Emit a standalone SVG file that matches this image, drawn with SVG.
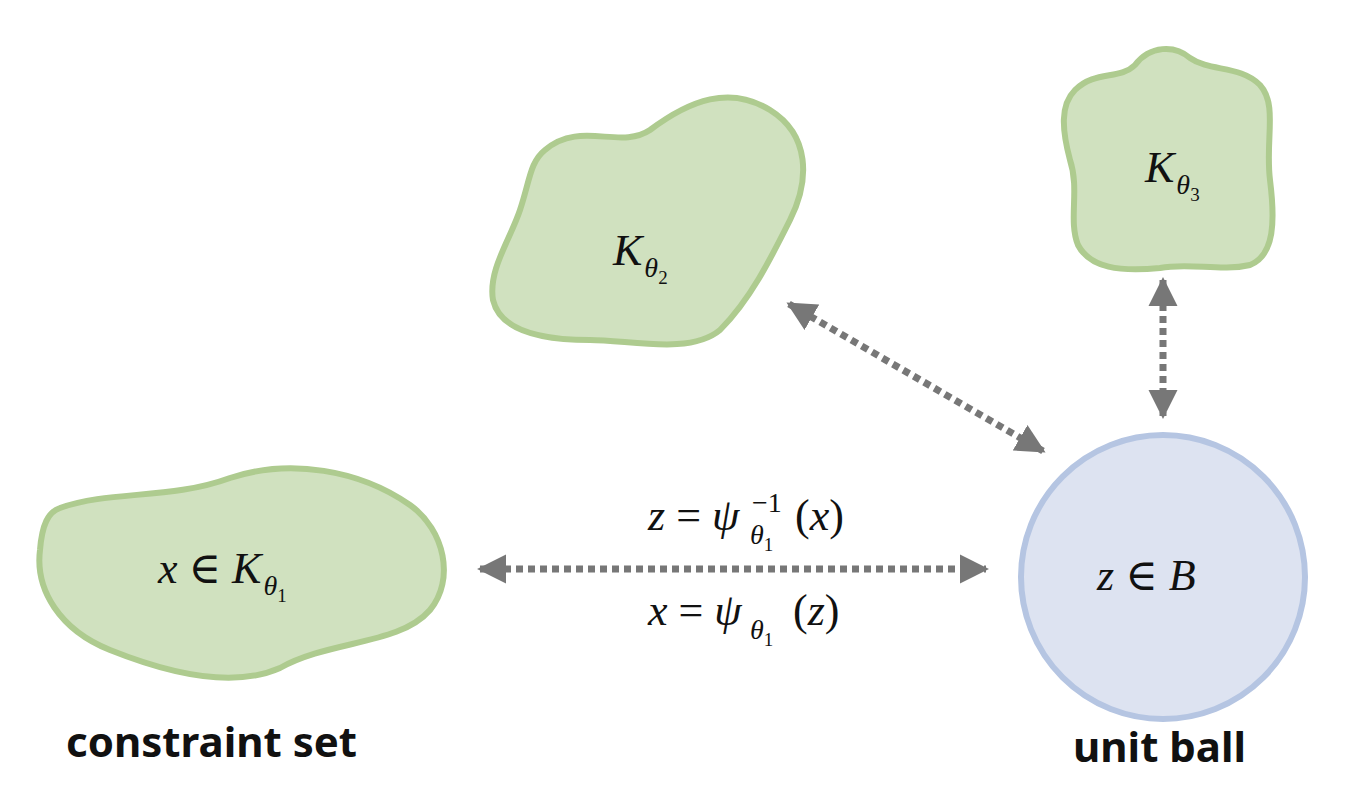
<svg xmlns="http://www.w3.org/2000/svg" width="1362" height="794" viewBox="0 0 1362 794">
<defs>
<style>
.blob{fill:#d0e1bf;stroke:#aecb8f;stroke-width:6}
.ball{fill:#dde3f1;stroke:#b5c5e2;stroke-width:6}
.m{font-family:"Liberation Serif","DejaVu Serif",serif;font-style:italic;font-size:44px;fill:#111}
.n{font-style:normal}
.s{font-size:28px}
.t{font-size:19px;font-style:normal}
.lab{font-family:"Noto Sans","Liberation Sans",sans-serif;font-weight:bold;font-size:42px;fill:#111}
.con{stroke:#777;stroke-width:7;stroke-dasharray:7 5;fill:none}
</style>
<marker id="ah" viewBox="0 0 10 10" refX="9" refY="5" markerWidth="4.2" markerHeight="4.2" orient="auto-start-reverse" markerUnits="strokeWidth"><path d="M0 0L10 5L0 10z" fill="#777"/></marker>
</defs>
<g id="k1">
<path class="blob" d="M60 508C110 490 170 500 230 478C290 458 360 470 410 505C445 530 455 580 430 610C400 645 330 640 280 668C230 690 160 670 110 650C60 630 35 590 40 550C42 525 48 512 60 508Z"/>
<text class="m" x="158" y="583">x <tspan class="n">∈</tspan> K<tspan class="s" dx="2" dy="12">θ</tspan><tspan class="t" dy="7">1</tspan></text>
</g>
<g id="k2">
<path class="blob" d="M545 150C580 120 620 150 650 130C690 100 730 85 770 110C810 135 810 180 790 220C770 260 750 300 720 330C690 355 630 340 590 340C540 340 500 330 493 300C488 270 510 240 520 210C530 180 530 162 545 150Z"/>
<text class="m" x="613" y="265">K<tspan class="s" dx="2" dy="12">θ</tspan><tspan class="t" dy="7">2</tspan></text>
</g>
<g id="k3">
<path class="blob" d="M1075 90C1095 70 1120 80 1135 65C1150 45 1175 45 1190 58C1210 72 1240 65 1260 85C1278 105 1265 140 1270 180C1275 220 1275 255 1250 265C1220 272 1190 262 1160 268C1120 272 1090 268 1078 245C1068 220 1080 190 1070 160C1062 130 1060 105 1075 90Z"/>
<text class="m" x="1145" y="182">K<tspan class="s" dx="2" dy="12">θ</tspan><tspan class="t" dy="7">3</tspan></text>
</g>
<g id="ball">
<circle class="ball" cx="1163" cy="577" r="142"/>
<text class="m" x="1097" y="590">z <tspan class="n">∈</tspan> B</text>
</g>
<g id="connectors">
<line class="con" x1="480" y1="569" x2="986" y2="569" marker-start="url(#ah)" marker-end="url(#ah)"/>
<line class="con" x1="789" y1="304" x2="1043" y2="451" marker-start="url(#ah)" marker-end="url(#ah)"/>
<line class="con" x1="1163" y1="280" x2="1163" y2="416" marker-start="url(#ah)" marker-end="url(#ah)"/>
</g>
<g id="labels">
<text class="m" x="648" y="530">z <tspan class="n">=</tspan> ψ</text>
<text class="m" x="750" y="530"><tspan class="s" dy="14">θ</tspan><tspan class="t" dy="7">1</tspan></text>
<text class="m s" x="752" y="512"><tspan class="n">−1</tspan></text>
<text class="m" x="795" y="530"><tspan class="n">(</tspan>x<tspan class="n">)</tspan></text>
<text class="m" x="648" y="625">x <tspan class="n">=</tspan> ψ</text>
<text class="m" x="750" y="625"><tspan class="s" dy="14">θ</tspan><tspan class="t" dy="7">1</tspan></text>
<text class="m" x="793" y="625"><tspan class="n">(</tspan>z<tspan class="n">)</tspan></text>
<text class="lab" x="66" y="757">constraint set</text>
<text class="lab" x="1073" y="762">unit ball</text>
</g>
</svg>
